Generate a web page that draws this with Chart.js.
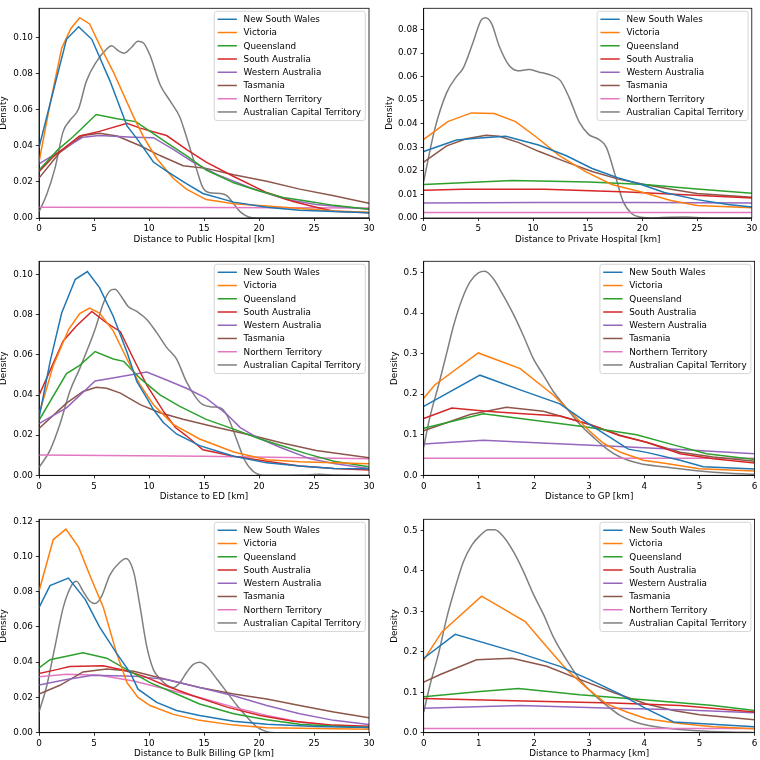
<!DOCTYPE html>
<html>
<head>
<meta charset="utf-8">
<script src="https://cdn.jsdelivr.net/npm/chart.js"></script>
<style>
html, body { margin:0; padding:0; background:#fff; overflow:hidden; }
#wrap { position:relative; width:760px; height:760px; }
canvas { position:absolute; }
</style>
</head>
<body>
<div id="wrap">
<canvas id="pubChart"></canvas>
<canvas id="privChart"></canvas>
<canvas id="edChart"></canvas>
<canvas id="gpChart"></canvas>
<canvas id="bbChart"></canvas>
<canvas id="phChart"></canvas>
</div>
<script>

const regions = ['New South Wales','Victoria','Queensland','South Australia','Western Australia','Tasmania','Northern Territory','Australian Capital Territory']
const colours = ['#1f77b4','#ff7f0e','#2ca02c','#d62728','#9467bd','#8c564b','#e377c2','#7f7f7f']

const km30Ticks = [0,5,10,15,20,25,30]
const km6Ticks = [0,1,2,3,4,5,6]
const pubYTicks = [0,0.02,0.04,0.06,0.08,0.10]
const privYTicks = [0,0.01,0.02,0.03,0.04,0.05,0.06,0.07,0.08]
const edYTicks = [0,0.02,0.04,0.06,0.08,0.10]
const gpYTicks = [0,0.1,0.2,0.3,0.4,0.5]
const bbYTicks = [0,0.02,0.04,0.06,0.08,0.10,0.12]
const phYTicks = [0,0.1,0.2,0.3,0.4,0.5]

// public hospital [km, density]
const pubNSW = [[0,0.039],[1.45,0.074],[2.5,0.099],[3.6,0.106],[4.8,0.099],[6.45,0.076],[8,0.051],[8.9,0.044],[10.4,0.031],[11.6,0.026],[13.4,0.019],[14.9,0.0136],[17.7,0.0088],[20.7,0.006],[23.7,0.0043],[26.8,0.0036],[30,0.0029]]
const pubVIC = [[0,0.031],[1.0,0.063],[2.06,0.094],[2.9,0.105],[3.7,0.111],[4.6,0.1075],[5.5,0.096],[6.75,0.081],[8.6,0.056],[9.5,0.045],[10.7,0.033],[12.2,0.022],[13.4,0.016],[15.2,0.0102],[17.7,0.0079],[20.7,0.0066],[23.7,0.0052],[26.8,0.0039],[30,0.0032]]
const pubQLD = [[0,0.0266],[1.75,0.038],[3.1,0.045],[5.2,0.0573],[7.1,0.055],[8.8,0.0534],[10.1,0.048],[11.6,0.0418],[13.4,0.0346],[15.2,0.0266],[17.7,0.0195],[19.8,0.0154],[22.2,0.0114],[24.6,0.0091],[26.8,0.007],[30,0.0048]]
const pubSA = [[0,0.0257],[1.3,0.034],[3.7,0.0454],[5.5,0.048],[8,0.0525],[9.2,0.0498],[11.6,0.0457],[13.4,0.038],[15.2,0.031],[17.7,0.023],[20.7,0.0141],[23.1,0.0091],[25.2,0.006],[26.8,0.0037],[30,0.0029]]
const pubWA = [[0,0.030],[1.9,0.037],[4.0,0.0448],[5.5,0.0457],[8.6,0.0448],[10.4,0.0445],[12.2,0.038],[14,0.031],[16.2,0.024],[19.2,0.0168],[22.5,0.0102],[25.2,0.0075],[30,0.0048]]
const pubTAS = [[0,0.0221],[1.9,0.0364],[4.0,0.0457],[5.5,0.047],[7.1,0.0454],[9.2,0.040],[11,0.0346],[13.1,0.029],[15.2,0.0275],[17.7,0.024],[20.7,0.0204],[23.7,0.016],[26.8,0.0123],[30,0.0082]]
const pubNT = [[0,0.0059],[15,0.0058],[30,0.0055]]
const pubACT = [[0,0.0034],[0.7,0.013],[1.45,0.0275],[2.2,0.048],[2.8,0.054],[3.6,0.0605],[4.3,0.0757],[5.2,0.0864],[6.15,0.0936],[6.6,0.0954],[7.2,0.0927],[7.75,0.0913],[8.4,0.0945],[9.0,0.098],[9.5,0.097],[10.1,0.090],[11,0.074],[11.9,0.065],[12.8,0.056],[13.4,0.045],[14.3,0.0275],[14.9,0.0168],[15.5,0.014],[16.5,0.0136],[17.1,0.0123],[17.7,0.0079],[18.3,0.0034],[19,0.0007],[19.8,0],[30,0]]

// private hospital
const privNSW = [[0,0.0282],[3.0,0.0331],[5.1,0.034],[7.5,0.0347],[10.5,0.031],[13,0.0265],[15.4,0.021],[17.8,0.017],[19.9,0.0142],[22,0.0108],[25,0.0078],[27.8,0.0057],[30,0.0047]]
const privVIC = [[0,0.0334],[2.2,0.0409],[4.35,0.0446],[6.45,0.0443],[8.4,0.0409],[10.2,0.0347],[12.4,0.0265],[14.8,0.0197],[17.2,0.0142],[19.9,0.011],[22.6,0.0074],[25,0.0053],[30,0.0044]]
const privQLD = [[0,0.0142],[8.1,0.0159],[15.1,0.0153],[20.2,0.0142],[24.7,0.0124],[30,0.0105]]
const privSA = [[0,0.0118],[3.6,0.0122],[11.1,0.0122],[18.7,0.011],[30,0.0085]]
const privWA = [[0,0.0064],[10,0.0066],[20,0.0066],[30,0.0064]]
const privTAS = [[0,0.0237],[2.1,0.0306],[3.9,0.0336],[5.7,0.0351],[6.9,0.0347],[8.7,0.032],[10.5,0.0283],[13,0.0238],[15.4,0.0197],[17.8,0.0165],[20.2,0.0142],[22.6,0.0122],[25,0.0104],[30,0.0088]]
const privNT = [[0,0.0023],[30,0.0023]]
const privACT = [[0,0.0156],[1.0,0.0375],[2.1,0.0532],[3.0,0.060],[3.6,0.0635],[4.5,0.0744],[5.25,0.084],[5.65,0.085],[6.2,0.0826],[6.9,0.073],[7.8,0.0648],[8.6,0.0625],[9.6,0.063],[10.5,0.062],[11.75,0.0604],[12.5,0.0583],[13.3,0.0511],[14.2,0.0409],[15.1,0.0354],[16,0.0334],[16.7,0.030],[17.5,0.0183],[18.2,0.0074],[19,0.0019],[19.9,0.0003],[20.8,0],[22.5,0.0003],[24,0.0004],[25.5,0.0001],[27,0],[30,0]]

// ED
const edNSW = [[0,0.0287],[1.0,0.0564],[2.06,0.0809],[3.3,0.0977],[4.4,0.1016],[5.5,0.0936],[6.75,0.0793],[8,0.0613],[8.9,0.0467],[9.8,0.0385],[10.4,0.0328],[11.3,0.0263],[12.5,0.0206],[14.6,0.0148],[17.7,0.0095],[20.7,0.0062],[23.7,0.0046],[26.8,0.0034],[30,0.0033]]
const edVIC = [[0,0.0303],[1.3,0.0548],[2.7,0.0728],[3.7,0.0806],[4.6,0.0834],[5.5,0.0809],[6.75,0.072],[8,0.058],[9.2,0.045],[10.4,0.0352],[12.2,0.0254],[14.6,0.0181],[17.7,0.0116],[20.7,0.0078],[23.7,0.0067],[26.8,0.0062],[30,0.0057]]
const edQLD = [[0,0.0274],[2.5,0.0507],[3.7,0.0548],[5.1,0.0617],[6.75,0.058],[7.7,0.0568],[9.2,0.0483],[11,0.0401],[12.8,0.0344],[15.2,0.0279],[17.7,0.023],[20.1,0.0181],[22.5,0.014],[24.3,0.0108],[26.8,0.007],[30,0.0042]]
const edSA = [[0,0.0398],[2.2,0.067],[3.4,0.0744],[4.8,0.0817],[6.15,0.076],[7.4,0.0716],[8.6,0.058],[9.8,0.045],[11.3,0.032],[12.4,0.0238],[13.4,0.0197],[14.9,0.0127],[17.7,0.0095],[20.7,0.007],[23.7,0.0046],[26.8,0.0034],[30,0.0026]]
const edWA = [[0,0.0258],[2.5,0.0336],[5.1,0.047],[6.45,0.0483],[9.8,0.0515],[11.6,0.0475],[13.4,0.0434],[15.2,0.0385],[17.1,0.0303],[18.3,0.0238],[19.8,0.0189],[21.9,0.014],[24.6,0.0083],[26.8,0.0059],[30,0.0034]]
const edTAS = [[0,0.0233],[2.5,0.036],[4.0,0.0418],[5.2,0.0439],[6.15,0.0434],[7.4,0.041],[9.2,0.0352],[11,0.0312],[13.1,0.0279],[16.2,0.0238],[19.2,0.0201],[22.2,0.016],[25.2,0.0124],[30,0.0088]]
const edNT = [[0,0.0101],[15,0.0095],[30,0.0083]]
const edACT = [[0,0.0039],[1.0,0.0124],[1.9,0.0254],[2.8,0.0418],[3.7,0.0532],[4.3,0.0613],[5.1,0.0728],[5.85,0.0858],[6.45,0.092],[6.9,0.0927],[7.5,0.089],[8.1,0.0842],[8.9,0.0817],[9.8,0.0777],[10.7,0.0711],[11.6,0.0638],[12.5,0.058],[13.4,0.0467],[14.3,0.0385],[14.9,0.0352],[15.8,0.0341],[16.6,0.0333],[17.2,0.0287],[18,0.0173],[18.7,0.0075],[19.5,0.0018],[20.4,0],[24,0.0001],[25.5,0.0005],[27,0.0001],[30,0]]

// GP
const gpNSW = [[0,0.170],[1.02,0.2468],[1.75,0.2105],[2.47,0.176],[3.0,0.126],[3.38,0.0935],[3.71,0.0645],[4.04,0.0565],[4.65,0.037],[5.07,0.021],[6,0.0153]]
const gpVIC = [[0,0.190],[0.2,0.2226],[0.99,0.3016],[1.75,0.263],[2.35,0.198],[2.71,0.150],[3.0,0.1097],[3.26,0.079],[3.56,0.0573],[3.98,0.037],[4.4,0.029],[5.0,0.016],[6,0.0105]]
const gpQLD = [[0,0.116],[1.08,0.1516],[2.95,0.119],[3.86,0.100],[4.53,0.075],[5.13,0.053],[6,0.0387]]
const gpSA = [[0,0.140],[0.51,0.166],[1.14,0.158],[1.8,0.1516],[2.47,0.146],[3.0,0.126],[3.56,0.0976],[4.04,0.0815],[4.65,0.053],[5.25,0.041],[6,0.0306]]
const gpWA = [[0,0.0774],[1.08,0.0863],[2.23,0.079],[3.44,0.0718],[4.65,0.0637],[6,0.053]]
const gpTAS = [[0,0.1097],[0.84,0.150],[1.5,0.1677],[2.17,0.158],[3.0,0.126],[3.56,0.099],[4.04,0.0815],[4.65,0.057],[5.25,0.045],[6,0.0347]]
const gpNT = [[0,0.042],[6,0.042]]
const gpACT = [[0,0.069],[0.11,0.142],[0.27,0.2226],[0.42,0.303],[0.54,0.368],[0.69,0.432],[0.84,0.4766],[0.99,0.499],[1.11,0.503],[1.26,0.485],[1.44,0.444],[1.63,0.396],[1.81,0.3435],[1.99,0.287],[2.17,0.247],[2.35,0.2065],[2.59,0.166],[2.83,0.126],[3.08,0.0935],[3.32,0.0653],[3.56,0.045],[3.92,0.029],[4.34,0.021],[4.95,0.0113],[5.55,0.0048],[6,0.0024]]

// bulk billing GP
const bbNSW = [[0,0.071],[1.0,0.0835],[2.67,0.0877],[4.2,0.0757],[5.5,0.060],[7.06,0.045],[8.3,0.034],[9.0,0.0247],[10.7,0.0172],[12.5,0.0126],[14.6,0.0098],[17.7,0.0065],[20.7,0.0048],[25.2,0.0035],[30,0.003]]
const bbVIC = [[0,0.0803],[1.3,0.1096],[2.45,0.1155],[3.6,0.1053],[4.6,0.0896],[5.85,0.071],[7.06,0.045],[8.0,0.0284],[9.0,0.020],[10.1,0.0154],[12.2,0.0104],[14.6,0.007],[17.7,0.0043],[20.7,0.0028],[30,0.0019]]
const bbQLD = [[0,0.0367],[1.0,0.0414],[4.0,0.0454],[6.15,0.0423],[8.0,0.0358],[10.1,0.0284],[12.2,0.0228],[14.6,0.0163],[17.7,0.0108],[20.7,0.0074],[23.7,0.0048],[26.8,0.0037],[30,0.003]]
const bbSA = [[0,0.0336],[1.6,0.0358],[2.8,0.0376],[5.85,0.038],[7.7,0.0354],[9.5,0.0321],[11.6,0.0265],[14,0.021],[17.1,0.0145],[20.1,0.0098],[23.1,0.0065],[26.8,0.0043],[30,0.0037]]
const bbWA = [[0,0.0271],[2.5,0.0302],[4.9,0.0326],[8.6,0.0321],[11.6,0.0302],[14.6,0.0256],[17.7,0.021],[20.7,0.0154],[23.7,0.0108],[26.8,0.007],[30,0.0046]]
const bbTAS = [[0,0.0219],[1.9,0.0269],[4.0,0.0345],[6.15,0.0362],[8.6,0.0349],[11.6,0.0302],[14.6,0.0256],[17.7,0.0219],[20.7,0.0191],[23.7,0.0154],[26.8,0.0117],[30,0.0085]]
const bbNT = [[0,0.0317],[2.5,0.0332],[5.5,0.0326],[8.6,0.0293],[11.6,0.0247],[14.6,0.020],[17.7,0.0145],[20.7,0.0098],[23.7,0.0061],[26.8,0.0039],[30,0.003]]
const bbACT = [[0,0.0117],[0.7,0.0265],[1.45,0.0488],[2.2,0.071],[3.0,0.084],[3.4,0.0859],[4.0,0.0803],[4.6,0.0747],[5.1,0.0733],[5.7,0.0775],[6.45,0.0896],[7.4,0.097],[7.9,0.0989],[8.6,0.0914],[9.2,0.071],[9.8,0.0488],[10.4,0.0358],[11.0,0.0306],[11.6,0.0271],[12.2,0.0256],[12.8,0.0284],[13.4,0.034],[14.0,0.0386],[14.6,0.040],[15.2,0.038],[16.2,0.0302],[17.1,0.0228],[18.0,0.0154],[18.9,0.0089],[19.8,0.0033],[20.7,0.0006],[21.5,0],[30,0]]

// pharmacy
const phNSW = [[0,0.184],[0.57,0.243],[1.75,0.196],[2.47,0.164],[3.0,0.1317],[3.56,0.0953],[4.04,0.059],[4.53,0.0267],[5.0,0.0226],[6,0.0145]]
const phVIC = [[0,0.180],[0.33,0.249],[1.05,0.3376],[1.84,0.2746],[2.23,0.2124],[2.59,0.156],[2.95,0.1115],[3.32,0.071],[3.68,0.051],[4.04,0.0347],[4.65,0.0226],[5.25,0.0145],[6,0.0097]]
const phQLD = [[0,0.0889],[1.02,0.1018],[1.72,0.109],[2.83,0.0937],[4.04,0.0808],[5.25,0.067],[6,0.055]]
const phSA = [[0,0.0848],[1.63,0.079],[3.44,0.0735],[4.65,0.067],[6,0.051]]
const phWA = [[0,0.0606],[1.75,0.067],[3.44,0.0606],[4.65,0.0565],[6,0.049]]
const phTAS = [[0,0.125],[0.3,0.1438],[0.96,0.180],[1.6,0.184],[2.23,0.164],[2.83,0.1317],[3.44,0.0994],[4.04,0.071],[4.53,0.055],[5.0,0.0444],[6,0.0323]]
const phNT = [[0,0.0105],[6,0.0105]]
const phACT = [[0,0.051],[0.11,0.1155],[0.27,0.196],[0.42,0.285],[0.57,0.358],[0.72,0.4225],[0.87,0.463],[1.02,0.487],[1.17,0.5016],[1.29,0.5016],[1.44,0.4855],[1.63,0.4467],[1.81,0.398],[1.99,0.3417],[2.17,0.293],[2.35,0.2367],[2.59,0.180],[2.83,0.1317],[3.08,0.0953],[3.32,0.067],[3.56,0.0428],[3.92,0.0226],[4.34,0.0121],[4.95,0.0048],[5.55,0.0016],[6,0.0008]]

const FONT = 'DejaVu Sans'
const FS = 8.8

// full box round the plot, like matplotlib spines
const frame = {
    id:'frame',
    afterDatasetsDraw(chart){
        const a = chart.chartArea
        const ctx = chart.ctx
        ctx.save()
        ctx.strokeStyle = '#000'
        ctx.lineWidth = 0.8
        ctx.strokeRect(a.left, a.top, a.right - a.left, a.bottom - a.top)
        ctx.restore()
    }
}

// legend box in the upper right of the plot
const legendBox = {
    id:'legendBox',
    afterDraw(chart){
        const a = chart.chartArea
        const ctx = chart.ctx
        const sets = chart.data.datasets
        ctx.save()
        ctx.font = FS + 'px "' + FONT + '"'
        let tw = 0
        sets.forEach(d => {
            tw = Math.max(tw, ctx.measureText(d.label).width)
        })
        const rowH = 13.24
        const w = 29.3 + tw + 4.3
        const h = 8 + rowH * (sets.length - 1) + 8.6
        const x0 = a.right - 3.7 - w
        const y0 = a.top + 3
        ctx.beginPath()
        ctx.roundRect(x0, y0, w, h, 2.5)
        ctx.fillStyle = 'rgba(255,255,255,0.8)'
        ctx.fill()
        ctx.strokeStyle = '#cccccc'
        ctx.lineWidth = 0.8
        ctx.stroke()
        sets.forEach((d, i) => {
            const cy = y0 + 8 + i * rowH
            ctx.strokeStyle = d.borderColor
            ctx.lineWidth = 1.5
            ctx.beginPath()
            ctx.moveTo(x0 + 3.3, cy)
            ctx.lineTo(x0 + 22.6, cy)
            ctx.stroke()
            ctx.fillStyle = '#000'
            ctx.textBaseline = 'middle'
            ctx.textAlign = 'left'
            ctx.fillText(d.label, x0 + 29.3, cy + 0.5)
        })
        ctx.restore()
    }
}

function makePanel(id, spot, series, xTitle, xTicks, xMax, yTicks, yMax, digits, yTitlePad){

    const canvas = document.getElementById(id)
    const height = Math.ceil(spot.plotB + 27 - spot.top)
    canvas.width = 380
    canvas.height = height
    canvas.style.left = spot.left + 'px'
    canvas.style.top = spot.top + 'px'

    const yW = spot.plotL - spot.left
    const padRight = spot.left + 380 - spot.plotR
    const padTop = spot.plotT - spot.top
    const padBottom = spot.top + height - spot.plotB - 27

    return new Chart(canvas, {
        type:'line',
        data:{
            datasets: series.map((s, i) => ({
                label: regions[i],
                data: s,
                borderColor: colours[i],
                backgroundColor: colours[i],
                borderWidth: 1.5,
                pointRadius: 0,
                fill: false,
                tension: 0,
                cubicInterpolationMode: i === 7 ? 'monotone' : 'default'
            }))
        },
        options:{
            responsive: false,
            animation: false,
            events: [],
            layout:{ padding:{ left:0, right:padRight, top:padTop, bottom:padBottom } },
            plugins:{ legend:{ display:false }, tooltip:{ enabled:false } },
            scales:{
                x:{
                    type:'linear',
                    min:0,
                    max:xMax,
                    afterBuildTicks: s => { s.ticks = xTicks.map(v => ({value:v})) },
                    afterFit: s => { s.height = 27 },
                    grid:{ drawOnChartArea:false, drawTicks:true, tickLength:3.1, tickColor:'#000', tickWidth:0.8 },
                    border:{ display:true, color:'#000', width:0.8 },
                    ticks:{ color:'#000', padding:2.6, maxRotation:0, autoSkip:false, font:{ family:FONT, size:FS } },
                    title:{ display:true, text:xTitle, color:'#000', padding:{ top:0, bottom:0.4 }, font:{ family:FONT, size:FS } }
                },
                y:{
                    type:'linear',
                    min:0,
                    max:yMax,
                    afterBuildTicks: s => { s.ticks = yTicks.map(v => ({value:v})) },
                    afterFit: s => { s.width = yW },
                    grid:{ drawOnChartArea:false, drawTicks:true, tickLength:3.1, tickColor:'#000', tickWidth:0.8 },
                    border:{ display:true, color:'#000', width:0.8 },
                    ticks:{ color:'#000', padding:3, autoSkip:false, font:{ family:FONT, size:FS },
                        callback: v => Number(v).toFixed(digits) },
                    title:{ display:true, text:'Density', color:'#000', padding:{ top:yTitlePad, bottom:0 }, font:{ family:FONT, size:FS } }
                }
            }
        },
        plugins:[frame, legendBox]
    })
}

let pubChart = makePanel('pubChart',
    { left:0, top:0, plotL:39, plotR:369, plotT:1, plotB:218 },
    [pubNSW, pubVIC, pubQLD, pubSA, pubWA, pubTAS, pubNT, pubACT],
    'Distance to Public Hospital [km]', km30Ticks, 30, pubYTicks, 0.1162, 2, -1.5)

let privChart = makePanel('privChart',
    { left:380, top:0, plotL:423.7, plotR:754.7, plotT:1, plotB:218 },
    [privNSW, privVIC, privQLD, privSA, privWA, privTAS, privNT, privACT],
    'Distance to Private Hospital [km]', km30Ticks, 30, privYTicks, 0.0890, 2, 4)

let edChart = makePanel('edChart',
    { left:0, top:253, plotL:39, plotR:369, plotT:257.3, plotB:475.3 },
    [edNSW, edVIC, edQLD, edSA, edWA, edTAS, edNT, edACT],
    'Distance to ED [km]', km30Ticks, 30, edYTicks, 0.1067, 2, -1.5)

let gpChart = makePanel('gpChart',
    { left:380, top:253, plotL:423.7, plotR:754.7, plotT:257.3, plotB:475.3 },
    [gpNSW, gpVIC, gpQLD, gpSA, gpWA, gpTAS, gpNT, gpACT],
    'Distance to GP [km]', km6Ticks, 6, gpYTicks, 0.5276, 1, 9.7)

let bbChart = makePanel('bbChart',
    { left:0, top:511, plotL:39, plotR:369, plotT:515, plotB:732.7 },
    [bbNSW, bbVIC, bbQLD, bbSA, bbWA, bbTAS, bbNT, bbACT],
    'Distance to Bulk Billing GP [km]', km30Ticks, 30, bbYTicks, 0.1211, 2, -1.5)

let phChart = makePanel('phChart',
    { left:380, top:511, plotL:423.7, plotR:754.7, plotT:515, plotB:732.7 },
    [phNSW, phVIC, phQLD, phSA, phWA, phTAS, phNT, phACT],
    'Distance to Pharmacy [km]', km6Ticks, 6, phYTicks, 0.5274, 1, 9.7)

</script>
</body>
</html>
